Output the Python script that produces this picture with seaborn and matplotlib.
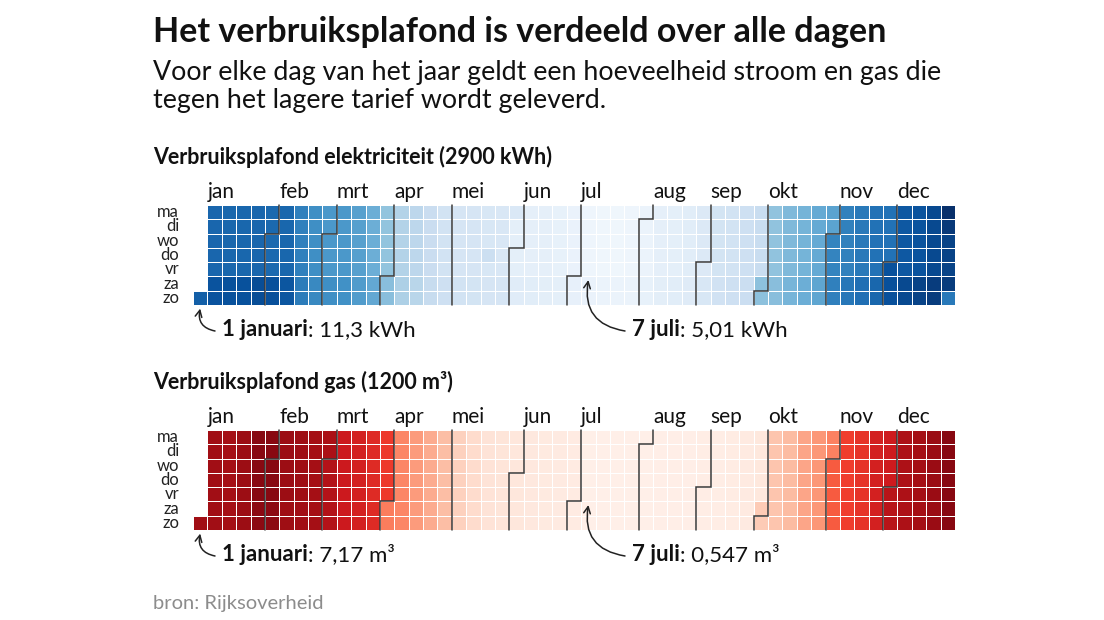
import numpy as np
import pandas as pd
import matplotlib
matplotlib.use("Agg")
import matplotlib.pyplot as plt
import seaborn as sns

# ---------------- data ----------------
days = ["ma", "di", "wo", "do", "vr", "za", "zo"]
months = ["jan", "feb", "mrt", "apr", "mei", "jun", "jul", "aug", "sep", "okt", "nov", "dec"]

# electricity, kWh per day, one value per calendar column (week), weekdays / weekend
elec_weekday = [11.3, 11.1, 11.05, 11.05, 11.1, 11.0, 11.05, 10.3, 9.8, 9.5, 9.5, 9.2, 8.7,
                7.9, 7.15, 6.9, 6.5, 6.15, 6.0, 6.0, 5.9, 5.85, 5.4, 5.35, 5.35, 5.25,
                5.15, 5.01, 4.95, 4.95, 4.97, 5.1, 5.35, 5.4, 5.5, 5.75, 6.1, 6.15, 6.3,
                6.55, 7.95, 8.3, 8.5, 8.85, 10.15, 10.25, 10.5, 10.7, 10.7, 11.55, 11.7,
                12.0, 12.2]
elec_weekend = [11.3, 11.7, 11.75, 11.75, 11.9, 11.8, 11.6, 10.4, 10.0, 9.8, 9.75, 9.35, 8.9,
                8.1, 7.3, 7.0, 6.6, 6.3, 6.15, 6.1, 6.0, 6.0, 5.55, 5.5, 5.45, 5.4,
                5.3, 5.15, 5.1, 5.1, 5.1, 5.25, 5.45, 5.5, 5.6, 5.9, 6.2, 6.3, 6.45,
                8.0, 8.1, 8.45, 8.7, 9.0, 10.3, 10.55, 10.8, 11.05, 11.8, 12.0, 12.2,
                12.4, 12.4]
elec_special = {"05-18": 6.4, "05-29": 5.8, "10-30": 9.1, "10-31": 9.1, "12-01": 11.75,
                "12-25": 12.8, "12-26": 12.5, "12-31": 10.5}

# gas, m3 per day
gas_weekday = [7.17, 7.15, 7.1, 7.25, 7.55, 7.55, 7.25, 7.2, 7.1, 6.75, 6.1, 5.9, 5.6,
               5.2, 3.5, 3.0, 2.6, 2.15, 1.65, 1.35, 1.1, 1.0, 0.92, 0.84, 0.8, 0.76,
               0.72, 0.547, 0.53, 0.53, 0.53, 0.53, 0.56, 0.56, 0.56, 0.64, 0.64, 0.68, 0.75,
               0.88, 1.95, 2.2, 2.75, 3.1, 4.5, 5.1, 5.4, 5.9, 6.05, 6.9, 7.1, 7.3, 7.55]
gas_weekend = [7.17, 7.15, 7.1, 7.25, 7.5, 7.5, 7.2, 7.15, 7.1, 6.75, 6.1, 5.9, 5.6,
               3.7, 3.5, 3.0, 2.6, 2.15, 1.65, 1.35, 1.1, 1.0, 0.92, 0.84, 0.8, 0.76,
               0.72, 0.55, 0.53, 0.53, 0.53, 0.53, 0.56, 0.56, 0.56, 0.64, 0.64, 0.68, 0.75,
               1.8, 1.95, 2.2, 2.75, 3.1, 4.5, 5.1, 5.4, 5.9, 6.6, 6.9, 7.1, 7.3, 7.55]
gas_special = {"02-27": 6.95, "02-28": 6.95, "10-30": 3.6, "10-31": 3.6,
               "12-01": 6.6}

title = "Het verbruiksplafond is verdeeld over alle dagen"
subtitle = ["Voor elke dag van het jaar geldt een hoeveelheid stroom en gas die",
            "tegen het lagere tarief wordt geleverd."]
panel_titles = ["Verbruiksplafond elektriciteit (2900 kWh)", "Verbruiksplafond gas (1200 m³)"]
notes = [[("1 januari", ": 11,3 kWh", "01-01"), ("7 juli", ": 5,01 kWh", "07-07")],
         [("1 januari", ": 7,17 m³", "01-01"), ("7 juli", ": 0,547 m³", "07-07")]]
source = "bron: Rijksoverheid"

# ---------------- figure ----------------
sns.set_theme(style="white")
plt.rcParams["font.family"] = ["Lato", "DejaVu Sans"]

W, H = 1104, 620
fig = plt.figure(figsize=(W / 100, H / 100), dpi=100)
fig.patch.set_facecolor("white")

dates = pd.date_range("2023-01-01", "2023-12-31")


def build_grid(weekday, weekend, special):
    grid = np.full((7, 53), np.nan)
    for i, d in enumerate(dates):
        r, c = (i + 6) % 7, (i + 6) // 7
        v = weekend[c] if r >= 5 else weekday[c]
        v = special.get(d.strftime("%m-%d"), v)
        grid[r, c] = v
    return grid


def cell_of(d):
    i = d.dayofyear - 1
    return (i + 6) % 7, (i + 6) // 7


def px_axes(left, top, right, bottom):
    return fig.add_axes([left / W, 1 - bottom / H, (right - left) / W, (bottom - top) / H])


def draw_panel(top, grid, cmap, vmin, vmax, ptitle, pnotes):
    ax = px_axes(193, top, 955, top + 100)
    df = pd.DataFrame(grid, index=days)
    sns.heatmap(df, mask=np.isnan(grid), cmap=cmap, vmin=vmin, vmax=vmax, cbar=False,
                linewidths=0.6, linecolor="white", ax=ax, xticklabels=False,
                yticklabels=days)
    ax.set_yticklabels(days, rotation=0, fontsize=12, color="#222222")
    ax.tick_params(axis="y", length=0, pad=10)
    ax.tick_params(axis="x", length=0)
    for s in ax.spines.values():
        s.set_visible(False)
    # month boundaries and labels
    for m in range(1, 13):
        d = pd.Timestamp(2023, m, 1)
        r, c = cell_of(d)
        if m == 1:
            lx = 1
        elif r == 0:
            ax.plot([c, c], [0, 7], color="#3a3a3a", lw=1.1, clip_on=False)
            lx = c
        else:
            ax.plot([c + 1, c + 1, c, c], [0, r, r, 7], color="#3a3a3a", lw=1.1,
                    clip_on=False, solid_joinstyle="miter")
            lx = c + 1
        ax.text(lx, -0.5, months[m - 1], ha="left", va="baseline", fontsize=15,
                color="#111111")
    fig.text(153 / W, 1 - (top - 41) / H, ptitle, fontsize=15.5, weight="bold",
             ha="left", va="baseline", color="#111111")
    # annotations
    renderer = fig.canvas.get_renderer()
    for (bold, rest, key), tx in zip(pnotes, (222, 632)):
        d = pd.Timestamp("2023-" + key)
        r, c = cell_of(d)
        ybase = top + 131
        t = fig.text(tx / W, 1 - ybase / H, bold, fontsize=16, weight="bold",
                     ha="left", va="baseline", color="#111111")
        bb = t.get_window_extent(renderer)
        fig.text(bb.x1 / W, 1 - ybase / H, rest, fontsize=16, ha="left",
                 va="baseline", color="#111111")
        tip_y = r + 1 + 0.25
        ax.annotate("", xy=(c + 0.5, tip_y), xycoords="data",
                    xytext=(tx - 7, H - (ybase - 5)), textcoords="figure pixels",
                    annotation_clip=False,
                    arrowprops=dict(arrowstyle="->", lw=1.1, color="#222222",
                                    connectionstyle="arc3,rad=-0.5",
                                    shrinkA=0, shrinkB=0))
    return ax


elec = build_grid(elec_weekday, elec_weekend, elec_special)
gas = build_grid(gas_weekday, gas_weekend, gas_special)

draw_panel(205, elec, "Blues", 4.6, 12.8, panel_titles[0], notes[0])
draw_panel(430, gas, "Reds", 0.25, 8.1, panel_titles[1], notes[1])

fig.text(153 / W, 1 - 42 / H, title, fontsize=24.5, weight="bold", ha="left",
         va="baseline", color="#111111")
fig.text(153 / W, 1 - 80 / H, subtitle[0], fontsize=19.3, ha="left", va="baseline",
         color="#111111")
fig.text(153 / W, 1 - 108 / H, subtitle[1], fontsize=19.3, ha="left", va="baseline",
         color="#111111")
fig.text(153 / W, 1 - 609 / H, source, fontsize=14.5, ha="left", va="baseline",
         color="#8c8c8c")

fig.savefig("out.png", dpi=100, facecolor="white")
